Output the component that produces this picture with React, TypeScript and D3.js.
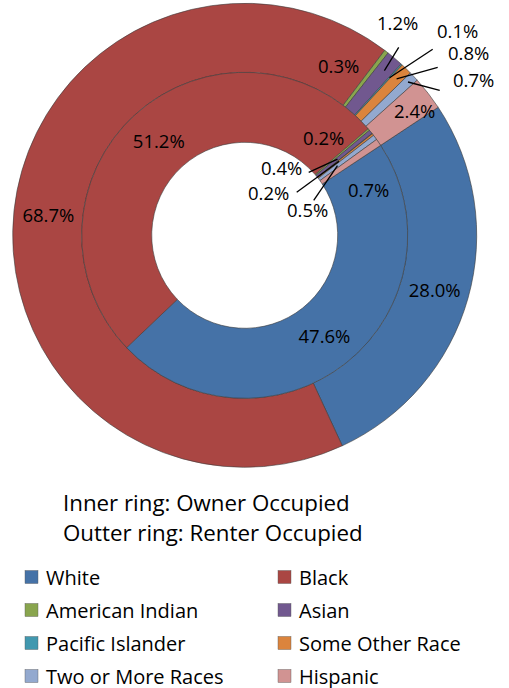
import React from "react";
import * as d3 from "d3";

const categories = ["White", "Black", "American Indian", "Asian", "Pacific Islander", "Some Other Race", "Two or More Races", "Hispanic"];
const colors = ["#4572A7", "#AA4643", "#89A54E", "#71588F", "#4198AF", "#DB843D", "#93A9CF", "#D19392"];
// Inner ring: Owner Occupied (%)
const ownerValues = [47.6, 51.2, 0.2, 0.4, 0.04, 0.2, 0.5, 0.7];
// Outer ring: Renter Occupied (%)
const renterValues = [28.0, 68.7, 0.3, 1.2, 0.1, 0.8, 0.7, 2.4];
const titleLines = ["Inner ring: Owner Occupied", "Outter ring: Renter Occupied"];

// label placement overrides (offset from the chart center), null = centroid
type LP = { at: [number, number]; from?: [number, number]; r?: number } | null;
const outerLabelPlacement: LP[] = [
  null,
  null,
  { at: [94, -170] },
  { at: [153, -213], from: [154, -188], r: 216 },
  { at: [213, -205], from: [188, -186], r: 214 },
  { at: [224, -183], from: [193, -168], r: 218 },
  { at: [229, -156], from: [195, -145], r: 224 },
  { at: [170, -125] },
];
const innerLabelPlacement: LP[] = [
  null,
  null,
  { at: [79, -98] },
  { at: [37, -68], from: [64, -63], r: 120 },
  null,
  { at: [24, -43], from: [52, -43], r: 120 },
  { at: [63, -26], from: [69, -35], r: 116 },
  { at: [124, -46] },
];

const W = 509;
const H = 688;
const cx = 244.7;
const cy = 235.3;
const R = 232;
const Rm = 163;
const Ri = 93;
const startDeg = 56.5;
const FONT = "'Open Sans', 'DejaVu Sans', sans-serif";

export default function App() {
  const start = (startDeg * Math.PI) / 180;
  const pie = d3
    .pie<number>()
    .sort(null)
    .value((d) => d)
    .startAngle(start)
    .endAngle(start + 2 * Math.PI);
  const outerArcs = pie(renterValues);
  const innerArcs = pie(ownerValues);
  const outerArc = d3.arc<d3.PieArcDatum<number>>().innerRadius(Rm).outerRadius(R);
  const innerArc = d3.arc<d3.PieArcDatum<number>>().innerRadius(Ri).outerRadius(Rm);

  const renderLabels = (arcs: d3.PieArcDatum<number>[], gen: any, placement: LP[], key: string) =>
    arcs.map((a, i) => {
      const txt = a.data.toFixed(1);
      if (parseFloat(txt) <= 0) return null;
      const p = placement[i];
      let x: number, y: number;
      if (p) {
        x = p.at[0];
        y = p.at[1];
      } else {
        [x, y] = gen.centroid(a);
      }
      let line = null;
      if (p && p.from && p.r) {
        const mid = (a.startAngle + a.endAngle) / 2;
        const ex = p.r * Math.sin(mid);
        const ey = -p.r * Math.cos(mid);
        line = <line x1={p.from[0]} y1={p.from[1]} x2={ex} y2={ey} stroke="#000" strokeWidth={1.3} />;
      }
      return (
        <g key={key + i}>
          {line}
          <text x={x} y={y} textAnchor="middle" dominantBaseline="central" fontSize={18.5} fill="#000" fontFamily={FONT}>
            {txt}%
          </text>
        </g>
      );
    });

  const legendRows = Math.ceil(categories.length / 2);
  const legendX = [25, 278];
  const legendY0 = 577;
  const legendDy = 33;

  return (
    <div style={{ position: "fixed", left: 0, top: 0, width: W, height: H, background: "#fff" }}>
      <svg width={W} height={H} style={{ display: "block" }}>
        <g transform={`translate(${cx},${cy})`}>
          {outerArcs.map((a, i) => (
            <path key={"o" + i} d={outerArc(a) || ""} fill={colors[i]} stroke="#3a3a3a" strokeWidth={0.6} />
          ))}
          {innerArcs.map((a, i) => (
            <path key={"i" + i} d={innerArc(a) || ""} fill={colors[i]} stroke="#3a3a3a" strokeWidth={0.6} />
          ))}
          {renderLabels(outerArcs, outerArc, outerLabelPlacement, "ol")}
          {renderLabels(innerArcs, innerArc, innerLabelPlacement, "il")}
        </g>
        {titleLines.map((t, i) => (
          <text key={"t" + i} x={63} y={502 + i * 30} dominantBaseline="central" fontSize={22.3} fill="#000" fontFamily={FONT}>
            {t}
          </text>
        ))}
        {categories.map((c, i) => {
          const col = i % 2;
          const row = Math.floor(i / 2);
          if (row >= legendRows) return null;
          const x = legendX[col];
          const y = legendY0 + row * legendDy;
          return (
            <g key={"lg" + i}>
              <rect x={x} y={y - 6.5} width={13} height={13} fill={colors[i]} stroke="#555" strokeWidth={0.4} />
              <text x={x + 21} y={y} dominantBaseline="central" fontSize={20} fill="#000" fontFamily={FONT}>
                {c}
              </text>
            </g>
          );
        })}
      </svg>
    </div>
  );
}
